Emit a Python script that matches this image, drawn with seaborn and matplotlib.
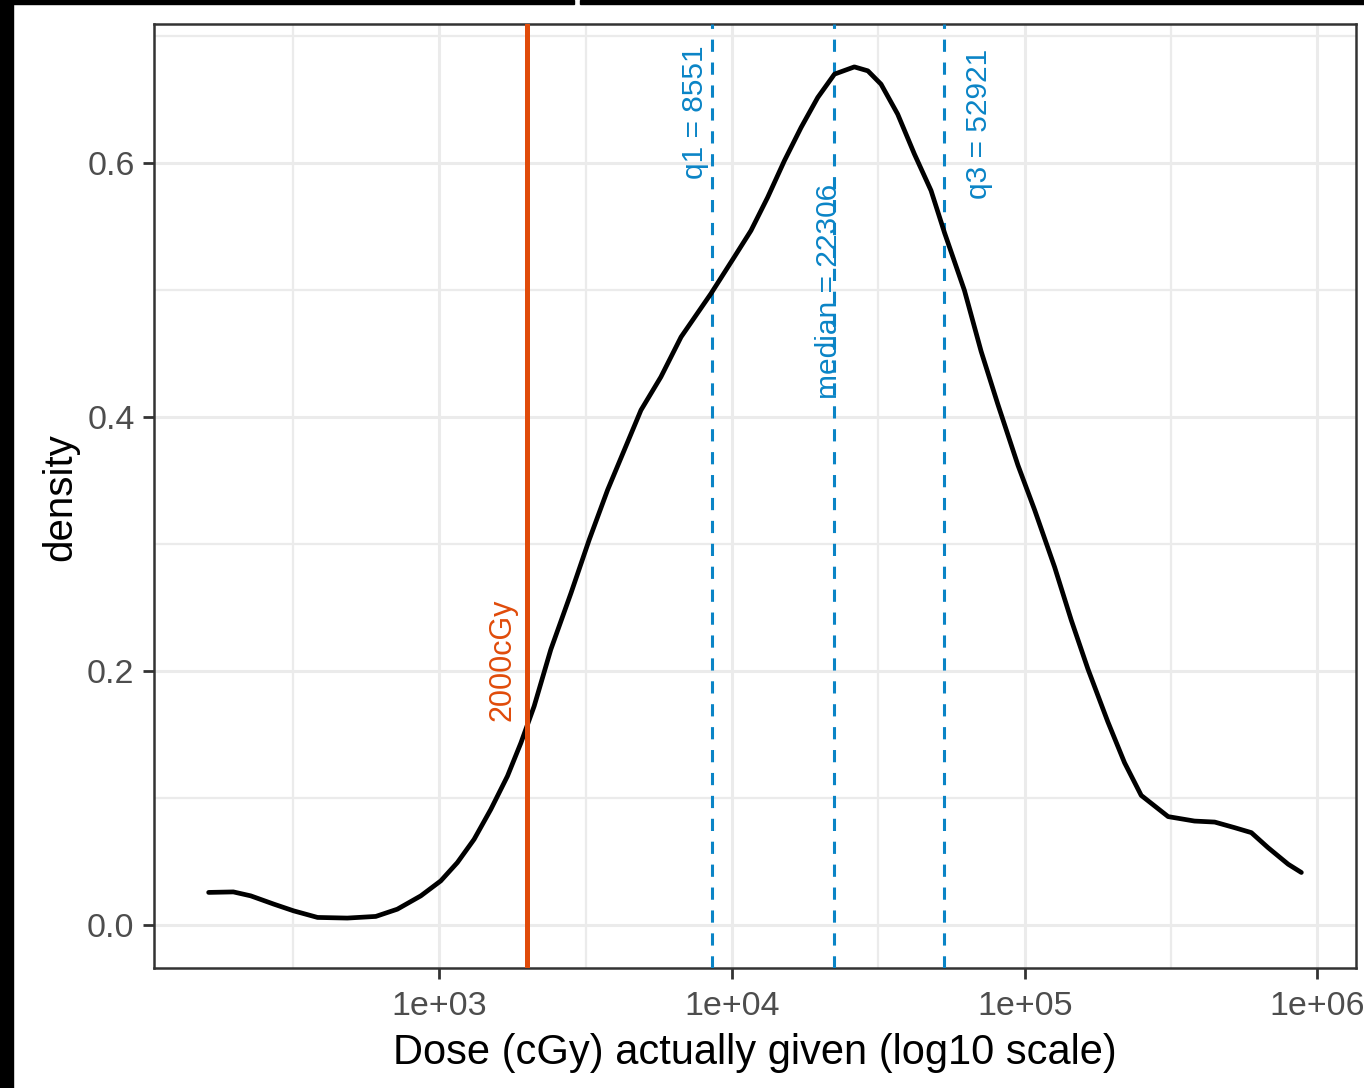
import numpy as np
import seaborn as sns
import matplotlib.pyplot as plt
from matplotlib.patches import Rectangle

# density curve (dose in cGy, log10 axis)
dose = [163, 198, 227, 272, 318, 384, 485, 607, 719, 865,
        1012, 1153, 1315, 1500, 1710, 1901, 2109, 2404, 2818, 3251,
        3758, 4285, 4887, 5715, 6699, 8472, 10190, 11610, 13240, 15100,
        17220, 19630, 22390, 26180, 29110, 32290, 36810, 41980, 47860, 53210,
        62230, 70960, 80910, 94840, 108100, 126500, 144200, 164400, 192300, 219300,
        250000, 309000, 380200, 445700, 521200, 594300, 677600, 794300, 881000]
density = [0.0255, 0.0259, 0.0228, 0.0163, 0.0110, 0.0058, 0.0053, 0.0066, 0.0123, 0.0228,
           0.0346, 0.0490, 0.0673, 0.0909, 0.1171, 0.1433, 0.1721, 0.2167, 0.2612, 0.3031,
           0.3424, 0.3738, 0.4053, 0.4314, 0.4629, 0.4970, 0.5260, 0.5467, 0.5729, 0.6017,
           0.6279, 0.6515, 0.6699, 0.6756, 0.6725, 0.6620, 0.6384, 0.6070, 0.5782, 0.5450,
           0.4996, 0.4516, 0.4100, 0.3618, 0.3267, 0.2817, 0.2399, 0.2014, 0.1598, 0.1276,
           0.1019, 0.0852, 0.0817, 0.0809, 0.0765, 0.0726, 0.0608, 0.0477, 0.0412]

threshold = 2000
quart_names = ["q1", "median", "q3"]
quart_vals = [8551, 22306, 52921]
quart_label_y = [0.640, 0.499, 0.631]
quart_label_dx = [-17, -5, 35]      # pixel offsets of the labels from their lines

x_breaks = [1e3, 1e4, 1e5, 1e6]
x_labels = ["1e+03", "1e+04", "1e+05", "1e+06"]
x_minor = [10**2.5, 10**3.5, 10**4.5, 10**5.5]
y_breaks = [0.0, 0.2, 0.4, 0.6]
y_minor = [0.1, 0.3, 0.5, 0.7]

sns.set_style("white")
plt.rcParams['font.family'] = ['Liberation Sans', 'DejaVu Sans']

fig = plt.figure(figsize=(13.64, 10.88), dpi=100)
ax = fig.add_axes([154/1364, 1 - 967.7/1088, 1202/1364, 943.7/1088])
ax.set_xscale('log')

sns.lineplot(x=dose, y=density, color='black', linewidth=3.4, ax=ax, zorder=4)
ax.lines[-1].set_solid_joinstyle('round')

# ggplot-like 5% expansion
lo, hi = np.log10(min(dose)), np.log10(max(dose))
pad = 0.05 * (hi - lo)
ax.set_xlim(10**(lo - pad), 10**(hi + pad))
ymax = max(density)
ax.set_ylim(-0.05 * ymax, 1.05 * ymax)

orange = '#E04B0A'
blue = '#0A84C6'
ax.axvline(threshold, color=orange, lw=3.6, zorder=5)
ax.annotate(f"{threshold}cGy", xy=(threshold, 0.2086), xytext=(-25, 0),
            textcoords='offset pixels', rotation=90, ha='center', va='center',
            color=orange, fontsize=22, zorder=6)

for name, val, ly, dx in zip(quart_names, quart_vals, quart_label_y, quart_label_dx):
    ax.axvline(val, color=blue, lw=2.2, ls=(0, (4, 3.5)), zorder=3)
    ax.annotate(f"{name} = {val}", xy=(val, ly), xytext=(dx, 0),
                textcoords='offset pixels', rotation=90, ha='center', va='center',
                color=blue, fontsize=21.5, zorder=6)

ax.set_xticks(x_breaks)
ax.set_xticklabels(x_labels)
ax.set_xticks(x_minor, minor=True)
ax.set_yticks(y_breaks)
ax.set_yticklabels([f"{v:.1f}" for v in y_breaks])
ax.set_yticks(y_minor, minor=True)
ax.tick_params(which='major', length=8, width=2, color='#333333', labelsize=24.5,
               labelcolor='#4D4D4D', direction='out', bottom=True, left=True)
ax.tick_params(axis='x', which='major', pad=9)
ax.tick_params(axis='y', which='major', pad=6)
ax.tick_params(which='minor', length=0)
ax.grid(which='major', color='#EBEBEB', lw=2.2)
ax.grid(which='minor', color='#EBEBEB', lw=1.6)
ax.set_axisbelow(True)
for s in ax.spines.values():
    s.set_color('#333333')
    s.set_linewidth(1.8)

ax.set_xlabel("Dose (cGy) actually given (log10 scale)", fontsize=30, color='black')
ax.set_ylabel("density", fontsize=29, color='black')
ax.xaxis.label.set_va('center')
ax.yaxis.label.set_va('center')
ax.xaxis.set_label_coords(0.5, -(1053 - 967.7) / 943.7)
ax.yaxis.set_label_coords((60 - 154) / 1202, 0.4988)

# screenshot frame edges
fig.patches.append(Rectangle((0, 0), 13 / 1364, 1, transform=fig.transFigure,
                             color='black', zorder=10))
fig.patches.append(Rectangle((0, 1 - 4 / 1088), 574 / 1364, 4 / 1088,
                             transform=fig.transFigure, color='black', zorder=10))
fig.patches.append(Rectangle((580 / 1364, 1 - 4 / 1088), 1, 4 / 1088,
                             transform=fig.transFigure, color='black', zorder=10))

fig.savefig("out.png", dpi=100)
